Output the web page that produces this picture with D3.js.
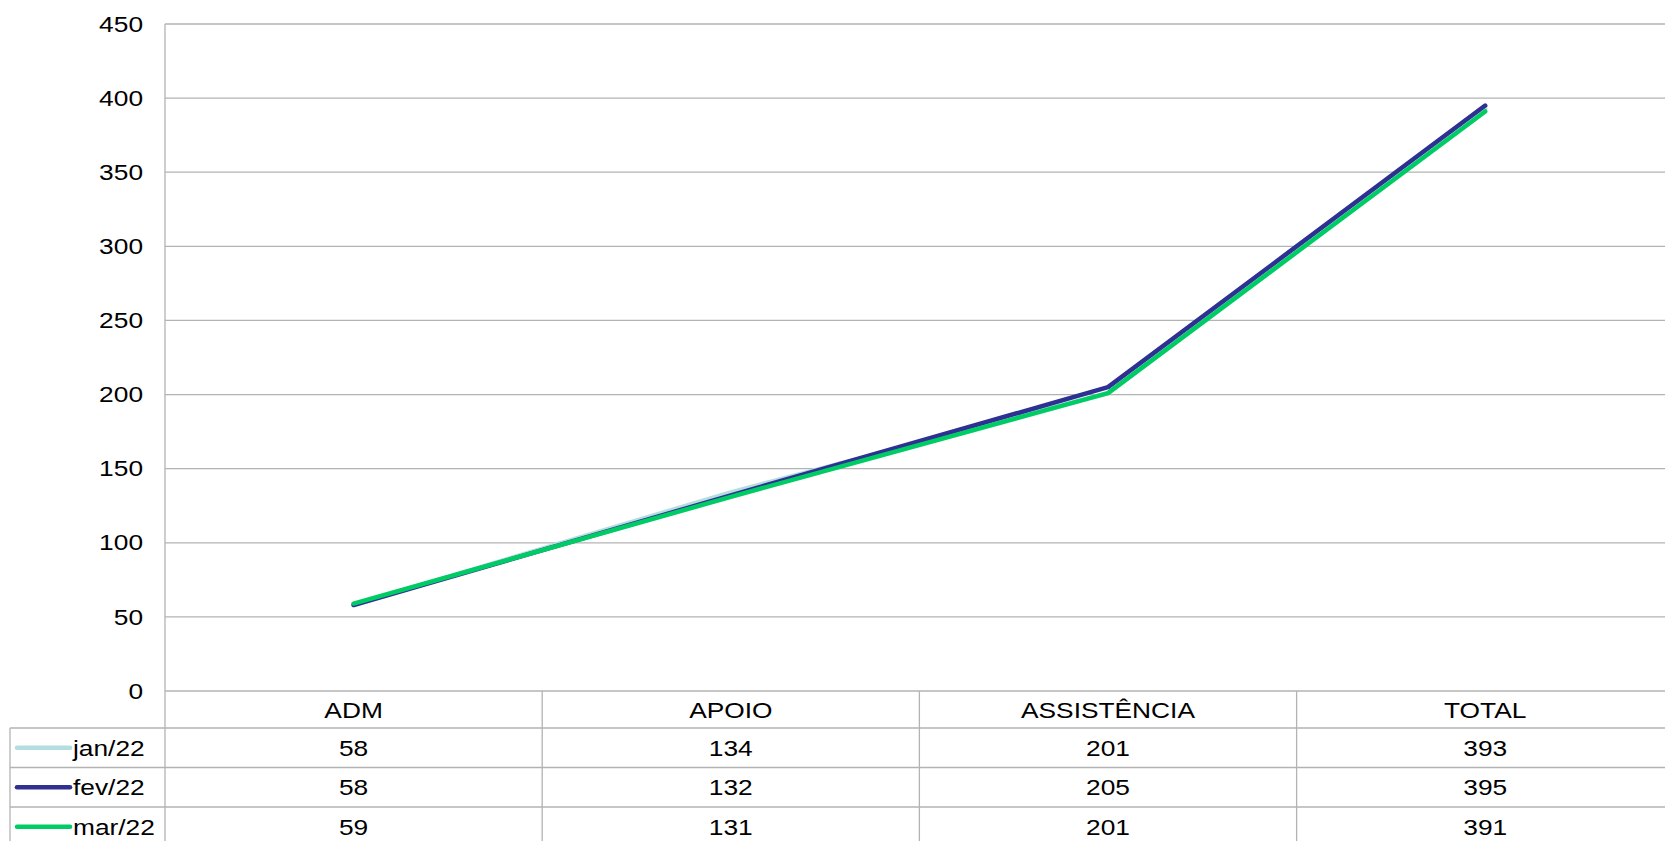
<!DOCTYPE html>
<html>
<head>
<meta charset="utf-8">
<script src="https://cdn.jsdelivr.net/npm/d3@7"></script>
<style>
  html, body { margin: 0; padding: 0; background: #fff; overflow: hidden; }
  svg { display: block; font-family: "Liberation Sans", Arial, sans-serif; }
</style>
</head>
<body>
<svg id="chart" width="1665" height="841"></svg>
<script>
// Categories and monthly series
const categories = ["ADM", "APOIO", "ASSISTÊNCIA", "TOTAL"];
const seriesNames = ["jan/22", "fev/22", "mar/22"];
const jan22 = [58, 134, 201, 393];
const fev22 = [58, 132, 205, 395];
const mar22 = [59, 131, 201, 391];
const yTicks = [0, 50, 100, 150, 200, 250, 300, 350, 400, 450];
const seriesColors = ["#b4dde0", "#2e3192", "#00cc66"];

const series = seriesNames.map((name, i) => ({
  name, color: seriesColors[i], values: [jan22, fev22, mar22][i]
}));

const svg = d3.select("#chart");
const plotLeft = 165, plotTop = 24, plotBottom = 691;
const colW = 377.2;
const plotRight = plotLeft + colW * categories.length;
const rowH = 39.5;
const tableLeft = 10;
const headerBottom = 728;
const gridColor = "#b3b3b3";
const fontSize = 22.5;
const stretch = 1.17;   // wide, Arial-like lettering

const x = d3.scaleBand().domain(categories).range([plotLeft, plotRight]);
const y = d3.scaleLinear().domain([0, 450]).range([plotBottom, plotTop]);

// Places a horizontally widened text label at (px, py)
function label(sel, px, py, txt, anchor) {
  return sel.append("text")
    .attr("transform", `translate(${px},${py}) scale(${stretch},1)`)
    .attr("dy", "0.36em")
    .attr("text-anchor", anchor || "start")
    .attr("font-size", fontSize)
    .attr("fill", "#000")
    .text(txt);
}

// Horizontal gridlines
svg.append("g").selectAll("line").data(yTicks).join("line")
  .attr("x1", plotLeft).attr("x2", plotRight)
  .attr("y1", d => y(d)).attr("y2", d => y(d))
  .attr("stroke", gridColor).attr("stroke-width", 1.3);

// Y axis labels
const yAxis = d3.axisLeft(y).tickValues(yTicks).tickSize(0).tickPadding(22 / stretch);
const gy = svg.append("g").attr("transform", `translate(${plotLeft},0)`).call(yAxis);
gy.select(".domain").remove();
gy.selectAll("text")
  .attr("transform", `scale(${stretch},1)`)
  .attr("font-size", fontSize)
  .attr("font-family", "'Liberation Sans', Arial, sans-serif")
  .attr("fill", "#000");

// Data table grid
const rowsBottom = headerBottom + rowH * series.length;
const g = svg.append("g").attr("stroke", gridColor).attr("stroke-width", 1.3);
g.append("line").attr("x1", plotLeft).attr("x2", plotLeft).attr("y1", plotTop).attr("y2", rowsBottom + 10);
g.append("line").attr("x1", tableLeft).attr("x2", tableLeft).attr("y1", headerBottom).attr("y2", rowsBottom + 10);
categories.forEach((c, i) => {
  if (i === 0) return;
  g.append("line").attr("x1", x(c)).attr("x2", x(c)).attr("y1", plotBottom).attr("y2", rowsBottom + 10);
});
d3.range(series.length).forEach(i => {
  const yy = headerBottom + rowH * i;
  g.append("line").attr("x1", tableLeft).attr("x2", plotRight).attr("y1", yy).attr("y2", yy);
});

// Category header row
const header = svg.append("g");
categories.forEach(c => {
  label(header, x(c) + x.bandwidth() / 2, (plotBottom + headerBottom) / 2, c, "middle");
});

// Value rows with legend keys
series.forEach((s, i) => {
  const cy = headerBottom + rowH * i + rowH / 2;
  svg.append("line")
    .attr("x1", 17).attr("x2", 70).attr("y1", cy).attr("y2", cy)
    .attr("stroke", s.color).attr("stroke-width", 4.5).attr("stroke-linecap", "round");
  const row = svg.append("g");
  label(row, 73, cy, s.name, "start");
  s.values.forEach((v, j) => {
    label(row, x(categories[j]) + x.bandwidth() / 2, cy, v, "middle");
  });
});

// Series lines
const line = d3.line()
  .x((d, j) => x(categories[j]) + x.bandwidth() / 2)
  .y(d => y(d));

svg.append("g").selectAll("path").data(series).join("path")
  .attr("d", d => line(d.values))
  .attr("fill", "none")
  .attr("stroke", d => d.color)
  .attr("stroke-width", 4.5)
  .attr("stroke-linejoin", "round")
  .attr("stroke-linecap", "round");
</script>
</body>
</html>
